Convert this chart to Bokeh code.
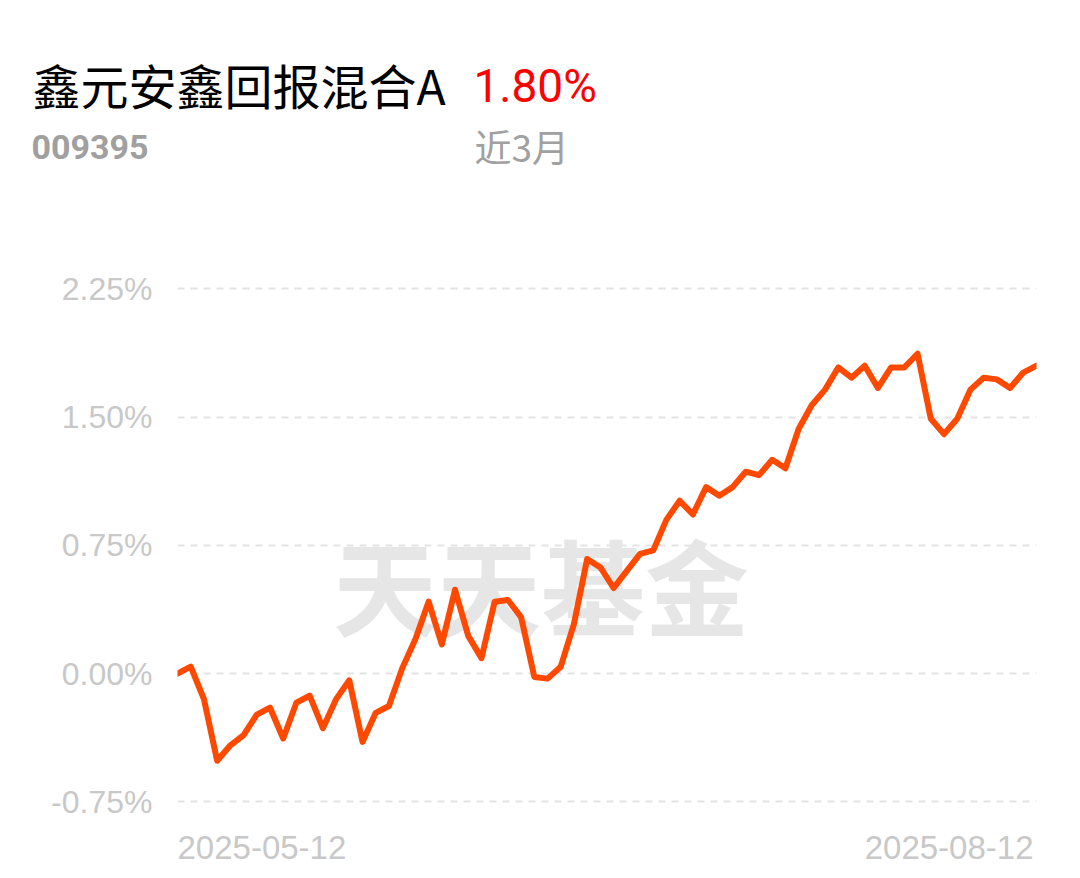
from bokeh.plotting import figure
from bokeh.layouts import column
from bokeh.models import Range1d, FixedTicker, PrintfTickFormatter, Label, ColumnDataSource
from bokeh.embed import file_html
from bokeh.resources import INLINE

# ---- data ----
fund_name = "鑫元安鑫回报混合A"
fund_code = "009395"
period_label = "近3月"
period_return = "1.80%"
date_labels = ["2025-05-12", "2025-08-12"]
y_ticks = [-0.75, 0.0, 0.75, 1.50, 2.25]
returns = [0.00, 0.04, -0.15, -0.51, -0.42, -0.36, -0.24, -0.20, -0.38, -0.17, -0.13,
           -0.32, -0.15, -0.04, -0.40, -0.23, -0.19, 0.03, 0.20, 0.42, 0.17, 0.49, 0.22,
           0.09, 0.42, 0.43, 0.33, -0.02, -0.03, 0.04, 0.29, 0.67, 0.62, 0.50, 0.60,
           0.70, 0.72, 0.90, 1.01, 0.93, 1.09, 1.04, 1.09, 1.18, 1.16, 1.25,
           1.20, 1.43, 1.57, 1.66, 1.79, 1.73, 1.80, 1.67, 1.79, 1.79, 1.87, 1.49,
           1.40, 1.49, 1.66, 1.73, 1.72, 1.67, 1.76, 1.80]
idx = list(range(len(returns)))
n = len(returns) - 1

# ---- layout constants (pixels) ----
W = 1076
HEAD_H = 200
CHART_H = 674
FRAME_L, FRAME_R = 177, 1036
PX_PER_UNIT = 171.0     # pixels per 1 percentage point
ZERO_Y = 673            # page y of 0.00%
y_top = (ZERO_Y - HEAD_H) / PX_PER_UNIT
y_bot = (ZERO_Y - (HEAD_H + CHART_H)) / PX_PER_UNIT

# ---- header ----
head = figure(width=W, height=HEAD_H, output_backend="svg", toolbar_location=None,
              x_range=Range1d(0, W), y_range=Range1d(HEAD_H, 0),
              min_border_left=0, min_border_right=0, min_border_top=0, min_border_bottom=0)
head.axis.visible = False
head.grid.visible = False
head.outline_line_color = None
head.background_fill_color = "white"
head.border_fill_color = "white"
if "frame_align" in head.properties():
    head.frame_align = False

head.add_layout(Label(x=32, y=83, text=fund_name, text_align="left", text_baseline="middle",
                      text_font="Noto Sans CJK SC", text_font_size="48px", text_color="#000000"))
head.add_layout(Label(x=473, y=85, text=period_return, text_align="left", text_baseline="middle",
                      text_font="Roboto", text_font_size="46px", text_color="#ff0000"))
head.add_layout(Label(x=31, y=146, text=fund_code, text_align="left", text_baseline="middle",
                      text_font="Roboto", text_font_style="bold", text_font_size="34px",
                      text_color="#a0a0a0"))
head.add_layout(Label(x=474, y=145, text=period_label, text_align="left", text_baseline="middle",
                      text_font="Noto Sans CJK SC", text_font_size="37px", text_color="#a0a0a0"))

# ---- chart ----
p = figure(width=W, height=CHART_H, output_backend="svg", toolbar_location=None,
           x_range=Range1d(0, n), y_range=Range1d(y_bot, y_top),
           min_border_left=FRAME_L, min_border_right=W - FRAME_R,
           min_border_top=0, min_border_bottom=0)
p.outline_line_color = None
p.background_fill_color = "white"
p.border_fill_color = "white"
if "frame_align" in p.properties():
    p.frame_align = False

p.xaxis.visible = False
p.xgrid.visible = False

ax = p.yaxis[0]
ax.ticker = FixedTicker(ticks=y_ticks)
ax.formatter = PrintfTickFormatter(format="%.2f%%")
ax.axis_line_color = None
ax.major_tick_line_color = None
ax.minor_tick_line_color = None
ax.major_tick_out = 0
ax.major_tick_in = 0
ax.minor_tick_out = 0
ax.minor_tick_in = 0
ax.major_label_standoff = 25
ax.major_label_text_color = "#c8c8c8"
ax.major_label_text_font = "Liberation Sans"
ax.major_label_text_font_size = "32px"

p.ygrid.ticker = FixedTicker(ticks=y_ticks)
p.ygrid.grid_line_color = "#e3e3e3"
p.ygrid.grid_line_width = 2
p.ygrid.grid_line_dash = "7 6"

# watermark
p.add_layout(Label(x=27.5, y=0.525, text="天天基金", text_align="center", text_baseline="middle",
                   text_font="Noto Sans CJK SC", text_font_style="bold",
                   text_font_size="104px", text_color="#e6e6e6", level="underlay"))

# line
src = ColumnDataSource(dict(x=idx, y=returns))
p.line("x", "y", source=src, line_color="#ff4800", line_width=6,
       line_join="round", line_cap="round")

# date labels
p.add_layout(Label(x=0, y=-1.0175, text=date_labels[0], text_align="left", text_baseline="middle",
                   text_font="Liberation Sans", text_font_size="33px", text_color="#c8c8c8"))
p.add_layout(Label(x=n, y=-1.0175, text=date_labels[1], text_align="right", text_baseline="middle",
                   x_offset=-3,
                   text_font="Liberation Sans", text_font_size="33px", text_color="#c8c8c8"))

layout = column(head, p, spacing=0)
open("out.html", "w").write(file_html(layout, INLINE))
